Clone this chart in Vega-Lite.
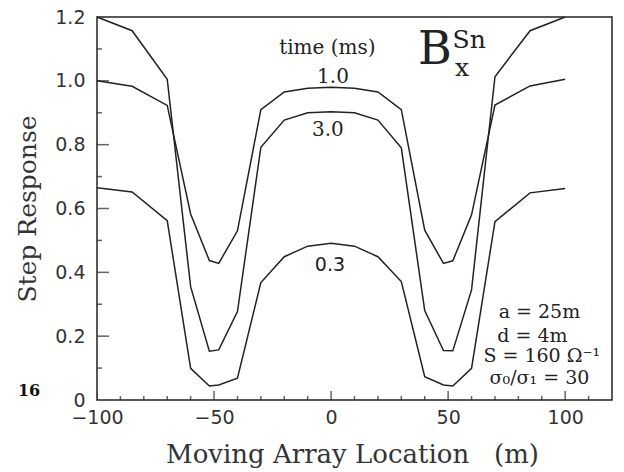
{
  "$schema": "https://vega.github.io/schema/vega-lite/v6.json",
  "width": 515,
  "height": 383,
  "autosize": {"type": "none"},
  "padding": {"left": 97, "top": 17, "right": 12, "bottom": 72},
  "background": "white",
  "config": {"view": {"stroke": "#222", "strokeWidth": 1.5}, "axis": {"grid": false}},
  "datasets": {
    "curves": [
      {"series": "1.0", "x": -100, "y": 1.0},
      {"series": "1.0", "x": -85, "y": 0.983},
      {"series": "1.0", "x": -70, "y": 0.923},
      {"series": "1.0", "x": -60, "y": 0.583},
      {"series": "1.0", "x": -52, "y": 0.437},
      {"series": "1.0", "x": -48, "y": 0.428},
      {"series": "1.0", "x": -40, "y": 0.53},
      {"series": "1.0", "x": -30, "y": 0.91},
      {"series": "1.0", "x": -20, "y": 0.965},
      {"series": "1.0", "x": -10, "y": 0.977},
      {"series": "1.0", "x": 0, "y": 0.98},
      {"series": "1.0", "x": 10, "y": 0.977},
      {"series": "1.0", "x": 20, "y": 0.965},
      {"series": "1.0", "x": 30, "y": 0.91},
      {"series": "1.0", "x": 40, "y": 0.532},
      {"series": "1.0", "x": 48, "y": 0.428},
      {"series": "1.0", "x": 52, "y": 0.436},
      {"series": "1.0", "x": 60, "y": 0.58},
      {"series": "1.0", "x": 70, "y": 0.924},
      {"series": "1.0", "x": 85, "y": 0.984},
      {"series": "1.0", "x": 100, "y": 1.005},
      {"series": "3.0", "x": -100, "y": 1.2},
      {"series": "3.0", "x": -85, "y": 1.157},
      {"series": "3.0", "x": -70, "y": 1.005},
      {"series": "3.0", "x": -60, "y": 0.355},
      {"series": "3.0", "x": -52, "y": 0.153},
      {"series": "3.0", "x": -48, "y": 0.157},
      {"series": "3.0", "x": -40, "y": 0.277},
      {"series": "3.0", "x": -30, "y": 0.792},
      {"series": "3.0", "x": -20, "y": 0.877},
      {"series": "3.0", "x": -10, "y": 0.9},
      {"series": "3.0", "x": 0, "y": 0.903},
      {"series": "3.0", "x": 10, "y": 0.9},
      {"series": "3.0", "x": 20, "y": 0.877},
      {"series": "3.0", "x": 30, "y": 0.79},
      {"series": "3.0", "x": 40, "y": 0.28},
      {"series": "3.0", "x": 48, "y": 0.155},
      {"series": "3.0", "x": 52, "y": 0.154},
      {"series": "3.0", "x": 60, "y": 0.345},
      {"series": "3.0", "x": 70, "y": 1.013},
      {"series": "3.0", "x": 85, "y": 1.157},
      {"series": "3.0", "x": 100, "y": 1.2},
      {"series": "0.3", "x": -100, "y": 0.665},
      {"series": "0.3", "x": -85, "y": 0.652},
      {"series": "0.3", "x": -70, "y": 0.562},
      {"series": "0.3", "x": -60, "y": 0.099},
      {"series": "0.3", "x": -52, "y": 0.044},
      {"series": "0.3", "x": -48, "y": 0.047},
      {"series": "0.3", "x": -40, "y": 0.068},
      {"series": "0.3", "x": -30, "y": 0.368},
      {"series": "0.3", "x": -20, "y": 0.449},
      {"series": "0.3", "x": -10, "y": 0.482},
      {"series": "0.3", "x": 0, "y": 0.491},
      {"series": "0.3", "x": 10, "y": 0.482},
      {"series": "0.3", "x": 20, "y": 0.449},
      {"series": "0.3", "x": 30, "y": 0.371},
      {"series": "0.3", "x": 40, "y": 0.073},
      {"series": "0.3", "x": 48, "y": 0.047},
      {"series": "0.3", "x": 52, "y": 0.044},
      {"series": "0.3", "x": 60, "y": 0.099},
      {"series": "0.3", "x": 70, "y": 0.559},
      {"series": "0.3", "x": 85, "y": 0.649},
      {"series": "0.3", "x": 100, "y": 0.663}
    ],
    "majorX": [
      {"v": -100}, {"v": -50}, {"v": 0}, {"v": 50}, {"v": 100}
    ],
    "majorY": [
      {"v": 0.2}, {"v": 0.4}, {"v": 0.6}, {"v": 0.8}, {"v": 1.0}
    ],
    "minorX": [
      {"v": -90}, {"v": -80}, {"v": -70}, {"v": -60}, {"v": -40}, {"v": -30}, {"v": -20}, {"v": -10},
      {"v": 10}, {"v": 20}, {"v": 30}, {"v": 40}, {"v": 60}, {"v": 70}, {"v": 80}, {"v": 90}, {"v": 110}
    ],
    "minorY": [
      {"v": 0.1}, {"v": 0.3}, {"v": 0.5}, {"v": 0.7}, {"v": 0.9}, {"v": 1.1}
    ],
    "serifLabels": [
      {"x": -1.6, "y": 1.103, "label": "time (ms)"},
      {"x": 0.8, "y": 1.012, "label": "1.0"},
      {"x": -1.4, "y": 0.846, "label": "3.0"}
    ],
    "sansLabels": [
      {"x": -0.5, "y": 0.423, "label": "0.3"}
    ],
    "bigB": [
      {"x": 44.3, "y": 1.096, "label": "B"}
    ],
    "supSub": [
      {"x": 59, "y": 1.128, "label": "Sn"},
      {"x": 55.9, "y": 1.04, "label": "x"}
    ],
    "params": [
      {"x": 89, "y": 0.276, "label": "a = 25m"},
      {"x": 86, "y": 0.201, "label": "d = 4m"},
      {"x": 90, "y": 0.138, "label": "S = 160 Ω⁻¹"},
      {"x": 89, "y": 0.07, "label": "σ₀/σ₁ = 30"}
    ],
    "pageNum": [
      {"x": -129, "y": 0.028, "label": "16"}
    ]
  },
  "layer": [
    {
      "data": {"name": "curves"},
      "mark": {"type": "line", "color": "#222", "strokeWidth": 1.5},
      "encoding": {
        "x": {
          "field": "x", "type": "quantitative",
          "scale": {"domain": [-100, 120], "nice": false, "zero": false},
          "axis": {
            "orient": "bottom", "values": [-100, -50, 0, 50, 100],
            "ticks": false, "domain": false,
            "labelFont": "DejaVu Sans", "labelFontSize": 19, "labelColor": "#333",
            "labelPadding": 8, "labelFlush": false, "labelOverlap": false, "labelBound": false,
            "title": "Moving Array Location\u00a0\u00a0\u00a0(m)",
            "titleFont": "DejaVu Serif", "titleFontSize": 26, "titleFontWeight": "normal", "titleColor": "#333",
            "titleX": 255, "titleY": 62, "titleBaseline": "alphabetic", "titleAlign": "center"
          }
        },
        "y": {
          "field": "y", "type": "quantitative",
          "scale": {"domain": [0, 1.2], "nice": false, "zero": false},
          "axis": {
            "orient": "left", "values": [0, 0.2, 0.4, 0.6, 0.8, 1.0, 1.2],
            "labelExpr": "datum.value == 0 ? '0' : format(datum.value, '.1f')",
            "ticks": false, "domain": false,
            "labelFont": "DejaVu Sans", "labelFontSize": 19, "labelColor": "#333",
            "labelPadding": 12, "labelFlush": false, "labelOverlap": false, "labelBound": false,
            "title": "Step Response",
            "titleFont": "DejaVu Serif", "titleFontSize": 25, "titleFontWeight": "normal", "titleColor": "#333",
            "titleX": -62, "titleY": 191.5, "titleAngle": -90, "titleBaseline": "alphabetic", "titleAlign": "center"
          }
        },
        "detail": {"field": "series", "type": "nominal"}
      }
    },
    {
      "data": {"name": "majorX"},
      "mark": {"type": "tick", "orient": "vertical", "size": 18, "thickness": 1.5, "color": "#222", "clip": true},
      "encoding": {
        "x": {"field": "v", "type": "quantitative"},
        "y": {"datum": 0, "type": "quantitative"}
      }
    },
    {
      "data": {"name": "majorY"},
      "mark": {"type": "tick", "orient": "horizontal", "size": 24, "thickness": 1.5, "color": "#222", "clip": true},
      "encoding": {
        "x": {"datum": -100, "type": "quantitative"},
        "y": {"field": "v", "type": "quantitative"}
      }
    },
    {
      "data": {"name": "minorX"},
      "mark": {"type": "tick", "orient": "vertical", "size": 8, "thickness": 1.5, "color": "#222", "clip": true},
      "encoding": {
        "x": {"field": "v", "type": "quantitative"},
        "y": {"datum": 0, "type": "quantitative"}
      }
    },
    {
      "data": {"name": "minorY"},
      "mark": {"type": "tick", "orient": "horizontal", "size": 10, "thickness": 1.5, "color": "#222", "clip": true},
      "encoding": {
        "x": {"datum": -100, "type": "quantitative"},
        "y": {"field": "v", "type": "quantitative"}
      }
    },
    {
      "data": {"name": "serifLabels"},
      "mark": {"type": "text", "font": "DejaVu Serif", "fontSize": 20, "color": "#222", "align": "center", "baseline": "middle"},
      "encoding": {
        "x": {"field": "x", "type": "quantitative"},
        "y": {"field": "y", "type": "quantitative"},
        "text": {"field": "label"}
      }
    },
    {
      "data": {"name": "sansLabels"},
      "mark": {"type": "text", "font": "DejaVu Sans", "fontSize": 19, "color": "#222", "align": "center", "baseline": "middle"},
      "encoding": {
        "x": {"field": "x", "type": "quantitative"},
        "y": {"field": "y", "type": "quantitative"},
        "text": {"field": "label"}
      }
    },
    {
      "data": {"name": "bigB"},
      "mark": {"type": "text", "font": "DejaVu Serif", "fontSize": 46, "fontWeight": 300, "color": "#222", "align": "center", "baseline": "middle"},
      "encoding": {
        "x": {"field": "x", "type": "quantitative"},
        "y": {"field": "y", "type": "quantitative"},
        "text": {"field": "label"}
      }
    },
    {
      "data": {"name": "supSub"},
      "mark": {"type": "text", "font": "DejaVu Serif", "fontSize": 25, "color": "#222", "align": "center", "baseline": "middle"},
      "encoding": {
        "x": {"field": "x", "type": "quantitative"},
        "y": {"field": "y", "type": "quantitative"},
        "text": {"field": "label"}
      }
    },
    {
      "data": {"name": "params"},
      "mark": {"type": "text", "font": "DejaVu Serif", "fontSize": 19, "color": "#222", "align": "center", "baseline": "middle"},
      "encoding": {
        "x": {"field": "x", "type": "quantitative"},
        "y": {"field": "y", "type": "quantitative"},
        "text": {"field": "label"}
      }
    },
    {
      "data": {"name": "pageNum"},
      "mark": {"type": "text", "font": "DejaVu Serif", "fontSize": 16, "fontWeight": "bold", "color": "#111", "align": "center", "baseline": "middle"},
      "encoding": {
        "x": {"field": "x", "type": "quantitative"},
        "y": {"field": "y", "type": "quantitative"},
        "text": {"field": "label"}
      }
    }
  ]
}
